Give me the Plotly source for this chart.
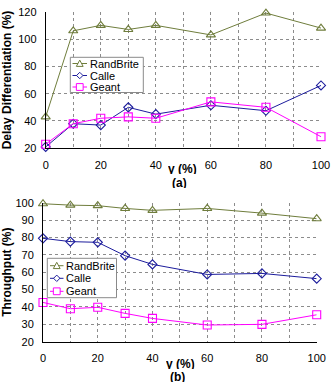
import plotly.graph_objects as go

gamma = [0, 10, 20, 30, 40, 60, 80, 100]
delay_randbrite = [43, 106, 110, 107, 110, 103, 119, 108]
delay_calle = [21, 38, 37, 50, 45, 51.5, 47.5, 66]
delay_geant = [23, 38, 42, 43, 42, 54, 50, 28.5]
thr_randbrite = [99.4, 98.6, 98.3, 96.7, 95.6, 96.7, 94, 90.8]
thr_calle = [79.5, 77.6, 77.2, 69.5, 64.5, 58.7, 59.3, 56.3]
thr_geant = [42.6, 39, 39.8, 36.3, 33.4, 29.6, 30, 35.5]
series_names = ["RandBrite", "Calle", "Geant"]
colors = ["#6f7d3c", "#1c1c9c", "#ff00ff"]
symbols = ["triangle-up-open", "diamond-open", "square-open"]
sizes = [8, 7, 8]
xtick_vals = list(range(0, 101, 10))
xtick_text = [str(v) if v % 20 == 0 else "" for v in xtick_vals]

fig = go.Figure()
for i, ys in enumerate([delay_randbrite, delay_calle, delay_geant]):
    fig.add_trace(go.Scatter(x=gamma, y=ys, name=series_names[i], mode="lines+markers",
                             line=dict(color=colors[i], width=1),
                             marker=dict(symbol=symbols[i], size=sizes[i], color=colors[i],
                                         line=dict(width=1.1, color=colors[i])),
                             xaxis="x", yaxis="y", showlegend=False, cliponaxis=False))
for i, ys in enumerate([thr_randbrite, thr_calle, thr_geant]):
    fig.add_trace(go.Scatter(x=gamma, y=ys, name=series_names[i], mode="lines+markers",
                             line=dict(color=colors[i], width=1),
                             marker=dict(symbol=symbols[i], size=sizes[i], color=colors[i],
                                         line=dict(width=1.1, color=colors[i])),
                             xaxis="x2", yaxis="y2", showlegend=False, cliponaxis=False))

W, H = 331, 382
def px(v): return v / W
def py(v): return 1 - v / H

axis_common = dict(showline=True, linecolor="black", linewidth=1, mirror=False,
                   showgrid=True, gridcolor="#8c8c8c", griddash="dot", gridwidth=1,
                   zeroline=False, ticks="", automargin=False, ticklabelstandoff=6,
                   tickfont=dict(family="Arial", size=11, color="black"))

fig.update_layout(
    width=W, height=H, margin=dict(l=0, r=0, t=0, b=0, autoexpand=False),
    paper_bgcolor="white", plot_bgcolor="white",
    font=dict(family="Arial", color="black"),
    showlegend=False,
    xaxis=dict(domain=[px(45.7), px(321)], anchor="y", range=[0, 100],
               tickvals=xtick_vals, ticktext=xtick_text, **axis_common),
    yaxis=dict(domain=[py(148.3), py(11.7)], anchor="x", range=[20, 120], dtick=20,
               title=dict(text="<b>Delay Differentiation (%)</b>", font=dict(size=12), standoff=8),
               **axis_common),
    xaxis2=dict(domain=[px(43), px(316.7)], anchor="y2", range=[0, 100],
                tickvals=xtick_vals, ticktext=xtick_text, **axis_common),
    yaxis2=dict(domain=[py(341.7), py(202.7)], anchor="x2", range=[20, 100], dtick=10,
                title=dict(text="<b>Throughput (%)</b>", font=dict(size=12), standoff=8),
                **axis_common),
)

# compact legend boxes (drawn like the original's small legend)
def marker_path(kind, cx, cy, r):
    if kind == 0:
        pts = [(cx - r, cy + r * 0.85), (cx + r, cy + r * 0.85), (cx, cy - r)]
    elif kind == 1:
        pts = [(cx - r, cy), (cx, cy - r), (cx + r, cy), (cx, cy + r)]
    else:
        pts = [(cx - r, cy - r), (cx + r, cy - r), (cx + r, cy + r), (cx - r, cy + r)]
    return "M " + " L ".join(f"{px(x):.5f},{py(y):.5f}" for x, y in pts) + " Z"

def add_legend(x0, y0, x1, y1, rows, sym_x0, sym_x1, text_x):
    fig.add_shape(type="rect", xref="paper", yref="paper",
                  x0=px(x0), x1=px(x1), y0=py(y1), y1=py(y0),
                  line=dict(color="#8a8a8a", width=1), fillcolor="white", layer="above")
    for i, ry in enumerate(rows):
        fig.add_shape(type="line", xref="paper", yref="paper",
                      x0=px(sym_x0), x1=px(sym_x1), y0=py(ry), y1=py(ry),
                      line=dict(color=colors[i], width=1), layer="above")
        cx = (sym_x0 + sym_x1) / 2
        fig.add_shape(type="path", xref="paper", yref="paper",
                      path=marker_path(i, cx, ry, 3.4 if i != 1 else 3.2),
                      line=dict(color=colors[i], width=1), fillcolor="white", layer="above")
        fig.add_annotation(text=series_names[i], x=px(text_x), y=py(ry), xref="paper", yref="paper",
                           showarrow=False, xanchor="left", yanchor="middle",
                           font=dict(family="Arial", size=11, color="black"))

add_legend(70.3, 57.3, 143.3, 92.5, [63.5, 75.5, 87], 72.5, 87, 87.5)
add_legend(47.3, 258.3, 116.5, 297.7, [265.7, 278.3, 291.3], 50, 63.5, 63.5)

ann = [("<b>γ (%)</b>", 182.5, 168.5), ("<b>(a)</b>", 179, 182),
       ("<b>γ (%)</b>", 180, 363), ("<b>(b)</b>", 177, 376.5)]
for t, x, y in ann:
    fig.add_annotation(text=t, x=px(x), y=py(y), xref="paper", yref="paper",
                       showarrow=False, font=dict(family="Arial", size=12, color="black"),
                       xanchor="center", yanchor="middle", height=11, valign="middle")

fig.write_html("out.html", config={"displayModeBar": False},
               post_script="document.body.style.margin='0';document.body.style.overflow='hidden';")
